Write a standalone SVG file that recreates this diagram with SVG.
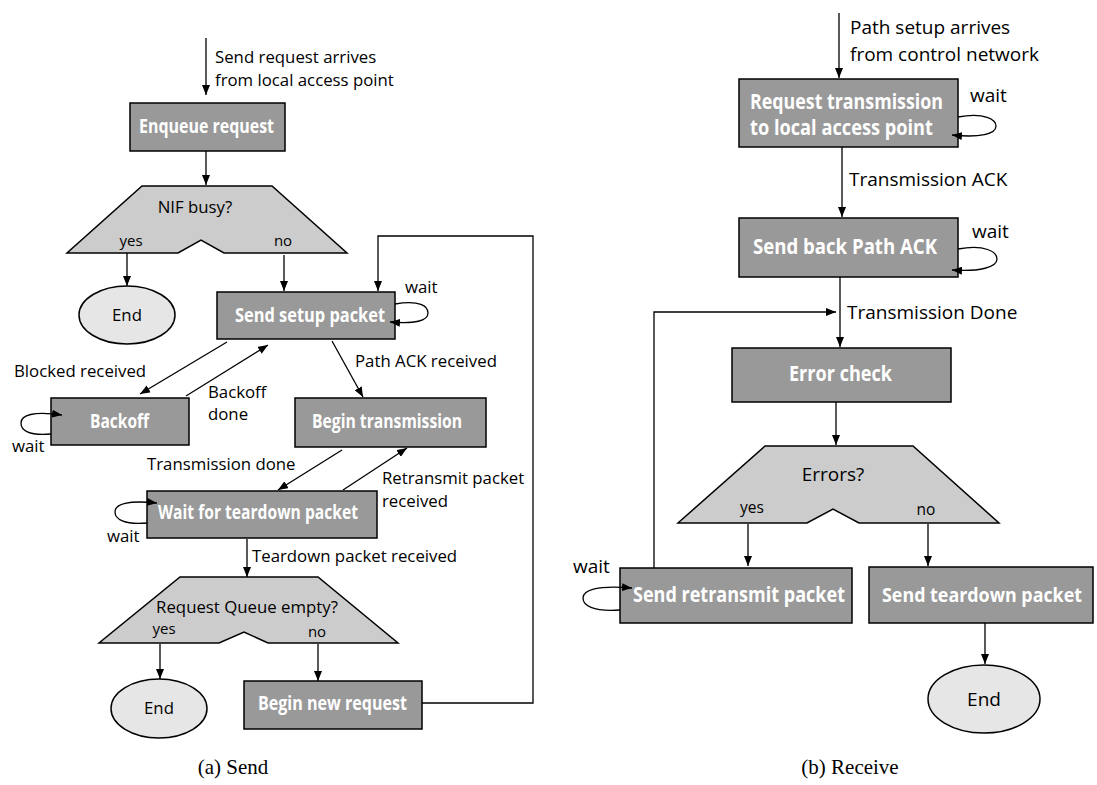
<svg xmlns="http://www.w3.org/2000/svg" width="1097" height="785" viewBox="0 0 1097 785">
  <defs>
    <marker id="arrow" viewBox="0 0 10 8" refX="10" refY="4" markerWidth="10" markerHeight="8" markerUnits="userSpaceOnUse" orient="auto">
      <path d="M0,0 L10,4 L0,8 z" fill="#000"/>
    </marker>
    <style>
      .box { fill: #999999; stroke: #000; stroke-width: 1.5; }
      .dec { fill: #cccccc; stroke: #000; stroke-width: 1.5; }
      .end { fill: #e6e6e6; stroke: #000; stroke-width: 1.5; }
      .edge { fill: none; stroke: #000; stroke-width: 1.3; }
      .arr { marker-end: url(#arrow); }
      .nl { font-family: "Open Sans", "Noto Sans", sans-serif; font-weight: 700; fill: #fff; text-anchor: middle; }
      .nl.l { font-size: 19px; }
      .nl.r { font-size: 21px; }
      .lbl { font-family: "Open Sans", "Noto Sans", sans-serif; fill: #000; }
      .lbl.l { font-size: 16.8px; }
      .lbl.r { font-size: 19px; }
      .yn { font-family: "Open Sans", "Noto Sans", sans-serif; fill: #000; text-anchor: middle; font-size: 15px; }
      .mid { text-anchor: middle; }
      .cap { font-family: "Liberation Serif", "Times New Roman", serif; font-size: 21px; fill: #000; text-anchor: middle; }
    </style>
  </defs>

  <!-- ===== (a) Send ===== -->
  <g id="send-enqueue">
    <rect class="box" x="130" y="103" width="155" height="48"/>
    <text class="nl l" x="206.5" y="133" textLength="135" lengthAdjust="spacingAndGlyphs">Enqueue request</text>
  </g>
  <g id="send-nif-busy">
    <path class="dec" d="M142,186 H272 L347,253 H224 L201,240 L178,253 H67 Z"/>
    <text class="lbl l mid" x="195" y="213">NIF busy?</text>
    <text class="yn" x="131" y="246">yes</text>
    <text class="yn" x="283" y="246">no</text>
  </g>
  <g id="send-end-1">
    <ellipse class="end" cx="127" cy="315" rx="48" ry="29"/>
    <text class="lbl l mid" x="127" y="321">End</text>
  </g>
  <g id="send-setup">
    <rect class="box" x="217" y="292" width="178" height="47"/>
    <text class="nl l" x="310" y="322" textLength="150" lengthAdjust="spacingAndGlyphs">Send setup packet</text>
  </g>
  <g id="send-backoff">
    <rect class="box" x="51" y="398" width="138" height="47"/>
    <text class="nl l" x="119.5" y="428" textLength="59" lengthAdjust="spacingAndGlyphs">Backoff</text>
  </g>
  <g id="send-begin-transmission">
    <rect class="box" x="295" y="398" width="191" height="49"/>
    <text class="nl l" x="387" y="428" textLength="150" lengthAdjust="spacingAndGlyphs">Begin transmission</text>
  </g>
  <g id="send-wait-teardown">
    <rect class="box" x="147" y="491" width="230" height="47"/>
    <text class="nl l" x="258" y="519" textLength="200" lengthAdjust="spacingAndGlyphs">Wait for teardown packet</text>
  </g>
  <g id="send-queue-empty">
    <path class="dec" d="M180,577 H318 L398,643 H268 L244,632 L219,643 H99 Z"/>
    <text class="lbl l mid" x="247" y="613">Request Queue empty?</text>
    <text class="yn" x="164" y="634">yes</text>
    <text class="yn" x="317" y="637">no</text>
  </g>
  <g id="send-end-2">
    <ellipse class="end" cx="159" cy="708.5" rx="48" ry="29.5"/>
    <text class="lbl l mid" x="159" y="714">End</text>
  </g>
  <g id="send-begin-new">
    <rect class="box" x="244" y="681" width="178" height="48"/>
    <text class="nl l" x="332.5" y="710" textLength="149" lengthAdjust="spacingAndGlyphs">Begin new request</text>
  </g>

  <!-- ===== (b) Receive ===== -->
  <g id="recv-request-transmission">
    <rect class="box" x="739" y="79" width="219" height="68"/>
    <text class="nl r" x="750" y="109" style="text-anchor:start" textLength="193" lengthAdjust="spacingAndGlyphs">Request transmission</text>
    <text class="nl r" x="750" y="135" style="text-anchor:start" textLength="183" lengthAdjust="spacingAndGlyphs">to local access point</text>
  </g>
  <g id="recv-path-ack">
    <rect class="box" x="739" y="218" width="219" height="59"/>
    <text class="nl r" x="845" y="254" textLength="184" lengthAdjust="spacingAndGlyphs">Send back Path ACK</text>
  </g>
  <g id="recv-error-check">
    <rect class="box" x="732" y="348" width="219" height="54"/>
    <text class="nl r" x="840.5" y="381" textLength="103" lengthAdjust="spacingAndGlyphs">Error check</text>
  </g>
  <g id="recv-errors">
    <path class="dec" d="M765,446 H913 L999,523 H859 L833,509 L807,523 H678 Z"/>
    <text class="lbl r mid" x="833" y="481">Errors?</text>
    <text class="yn" x="752" y="513" style="font-size:15.5px">yes</text>
    <text class="yn" x="926" y="515" style="font-size:15.5px">no</text>
  </g>
  <g id="recv-retransmit">
    <rect class="box" x="620" y="568" width="232" height="55"/>
    <text class="nl r" x="739" y="602" textLength="212" lengthAdjust="spacingAndGlyphs">Send retransmit packet</text>
  </g>
  <g id="recv-teardown">
    <rect class="box" x="869" y="567" width="224" height="56"/>
    <text class="nl r" x="982" y="602" style="font-size:20px" textLength="200" lengthAdjust="spacingAndGlyphs">Send teardown packet</text>
  </g>
  <g id="recv-end">
    <ellipse class="end" cx="984" cy="699" rx="56" ry="34"/>
    <text class="lbl r mid" x="984" y="706">End</text>
  </g>

  <!-- connectors -->
  <g id="connectors">
    <!-- send side -->
    <path class="edge arr" d="M206,38 V95"/>
    <path class="edge arr" d="M206,151 V185"/>
    <path class="edge arr" d="M127,253 V286"/>
    <path class="edge arr" d="M284,255 V291"/>
    <path class="edge arr" d="M422,703 H533 V236 H378 V291"/>
    <path class="edge arr" d="M395,304 C420,300 428,306 428,313 C428,321 415,324 390,322"/>
    <path class="edge arr" d="M227,342 L140,394"/>
    <path class="edge arr" d="M186,396 L268,345"/>
    <path class="edge arr" d="M332,341 L363,397"/>
    <path class="edge arr" d="M51,434 C28,436 21,430 21,423 C21,415 33,411 62,415"/>
    <path class="edge arr" d="M342,450 L278,490"/>
    <path class="edge arr" d="M343,490 L407,448"/>
    <path class="edge arr" d="M147,523 C124,525 115,519 115,512 C115,504 128,500 157,503"/>
    <path class="edge arr" d="M247,539 V577"/>
    <path class="edge arr" d="M160,644 V679"/>
    <path class="edge arr" d="M318,644 V681"/>
    <!-- receive side -->
    <path class="edge arr" d="M839,13 V78"/>
    <path class="edge arr" d="M958,117 C985,112 996,120 996,126 C996,134 980,138 952,135"/>
    <path class="edge arr" d="M842,147 V217"/>
    <path class="edge arr" d="M958,249 C985,244 997,252 997,259 C997,267 980,272 952,270"/>
    <path class="edge arr" d="M840,277 V347"/>
    <path class="edge arr" d="M654,568 V312 H836"/>
    <path class="edge arr" d="M836,402 V445"/>
    <path class="edge arr" d="M748,524 V566"/>
    <path class="edge arr" d="M928,524 V566"/>
    <path class="edge arr" d="M620,610 C592,612 583,605 583,598 C583,590 597,585 632,588"/>
    <path class="edge arr" d="M985,623 V664"/>
  </g>

  <!-- transition labels -->
  <g id="labels">
    <text class="lbl l" x="215" y="63">Send request arrives</text>
    <text class="lbl l" x="215" y="86">from local access point</text>
    <text class="lbl l" x="405" y="293">wait</text>
    <text class="lbl l" x="14" y="377">Blocked received</text>
    <text class="lbl l" x="208" y="398">Backoff</text>
    <text class="lbl l" x="208" y="420">done</text>
    <text class="lbl l" x="355" y="367">Path ACK received</text>
    <text class="lbl l" x="12" y="452">wait</text>
    <text class="lbl l" x="147" y="470">Transmission done</text>
    <text class="lbl l" x="382" y="484">Retransmit packet</text>
    <text class="lbl l" x="382" y="507">received</text>
    <text class="lbl l" x="107" y="542">wait</text>
    <text class="lbl l" x="252" y="562">Teardown packet received</text>

    <text class="lbl r" x="850" y="34">Path setup arrives</text>
    <text class="lbl r" x="850" y="61">from control network</text>
    <text class="lbl r" x="970" y="102">wait</text>
    <text class="lbl r" x="849" y="186">Transmission ACK</text>
    <text class="lbl r" x="972" y="238">wait</text>
    <text class="lbl r" x="847" y="319">Transmission Done</text>
    <text class="lbl r" x="573" y="573">wait</text>
  </g>

  <!-- captions -->
  <text class="cap" x="233" y="774">(a) Send</text>
  <text class="cap" x="850" y="774">(b) Receive</text>
</svg>
